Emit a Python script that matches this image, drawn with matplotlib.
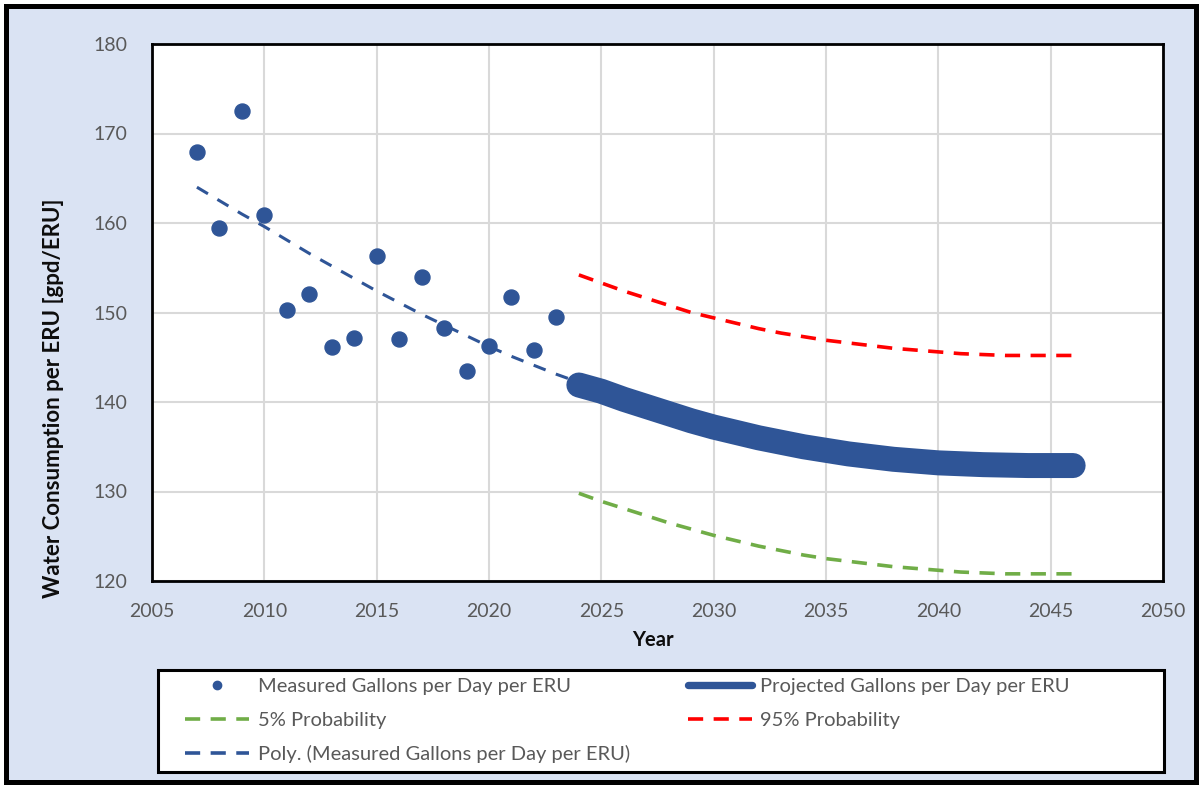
import numpy as np
import matplotlib
matplotlib.use("Agg")
import matplotlib.pyplot as plt
from matplotlib.lines import Line2D
from matplotlib.patches import Rectangle

plt.rcParams['font.family'] = ['Lato', 'DejaVu Sans']

# Measured data
meas_years = [2007, 2008, 2009, 2010, 2011, 2012, 2013, 2014, 2015, 2016,
              2017, 2018, 2019, 2020, 2021, 2022, 2023]
meas_vals = [167.9, 159.4, 172.5, 160.9, 150.3, 152.1, 146.1, 147.1, 156.3, 147.0,
             154.0, 148.3, 143.5, 146.3, 151.7, 145.8, 149.5]

# Polynomial trendline (as drawn)
trend_years = list(range(2007, 2025))
trend_vals = [164.0, 162.5, 161.0, 159.6, 158.1, 156.6, 155.2, 153.8, 152.4, 151.1,
              149.8, 148.6, 147.4, 146.2, 145.1, 144.1, 143.1, 142.2]

# Projections
proj_years = list(range(2024, 2047))
proj_vals = [141.9, 141.2, 140.3, 139.5, 138.7, 137.9, 137.2, 136.6, 136.0, 135.5,
             135.0, 134.6, 134.2, 133.9, 133.6, 133.4, 133.2, 133.1, 133.0, 132.95,
             132.9, 132.9, 132.9]
p95_vals = [154.2, 153.3, 152.4, 151.6, 150.8, 150.0, 149.4, 148.8, 148.2, 147.7,
            147.3, 146.9, 146.6, 146.3, 146.0, 145.8, 145.6, 145.4, 145.3, 145.2,
            145.2, 145.2, 145.2]
p5_vals = [129.8, 128.9, 128.1, 127.3, 126.5, 125.8, 125.1, 124.5, 123.9, 123.4,
           122.9, 122.5, 122.2, 121.9, 121.6, 121.4, 121.2, 121.0, 120.9, 120.8,
           120.8, 120.8, 120.8]

x_ticks = [2005, 2010, 2015, 2020, 2025, 2030, 2035, 2040, 2045, 2050]
y_ticks = [120, 130, 140, 150, 160, 170, 180]

blue = '#2f5597'
red = '#ff0000'
green = '#70ad47'
bg = '#dae3f3'
txt = '#595959'

W, H = 1201, 787
fig = plt.figure(figsize=(W / 100, H / 100), dpi=100)
fig.patch.set_facecolor('white')
# light blue background with black border
fig.add_artist(Rectangle((5.5 / W, 5.5 / H), (W - 11) / W, (H - 11) / H,
                         transform=fig.transFigure, facecolor=bg,
                         edgecolor='black', linewidth=3.6, zorder=0))

ax = fig.add_axes([152 / W, (H - 581) / H, (1163 - 152) / W, (581 - 44) / H])
ax.set_facecolor('white')

dash = (0, (4.2, 2.9))
ax.plot(trend_years, trend_vals, color=blue, lw=2.2, ls=(0, (4.2, 3.6)), zorder=3)
ax.plot(meas_years, meas_vals, 'o', color=blue, ms=10.8, zorder=4)
ax.plot(proj_years, proj_vals, '-', color=blue, lw=18, solid_capstyle='round', zorder=3)
ax.plot(proj_years, p95_vals, color=red, lw=2.6, ls=dash, zorder=3)
ax.plot(proj_years, p5_vals, color=green, lw=2.6, ls=dash, zorder=3)

ax.set_xlim(2005, 2050)
ax.set_ylim(120, 180)
ax.set_xticks(x_ticks)
ax.set_yticks(y_ticks)
ax.grid(True, color='#d9d9d9', lw=1.5)
ax.set_axisbelow(True)
ax.tick_params(length=0, labelsize=14, colors=txt)
ax.tick_params(axis='x', pad=16)
ax.tick_params(axis='y', pad=18)
for s in ax.spines.values():
    s.set_color('black')
    s.set_linewidth(2)

ax.set_xlabel('Year', fontsize=14.5, fontweight='bold', color='#0d0d0d')
ax.xaxis.set_label_coords(0.4955, -0.091)
ax.set_ylabel('Water Consumption per ERU [gpd/ERU]', fontsize=16, fontweight='bold',
              color='#0d0d0d')
ax.yaxis.set_label_coords(-0.087, 0.34)

# legend frame
fig.add_artist(Rectangle((158 / W, (H - 772) / H), (1164 - 158) / W, (772 - 670) / H,
                         transform=fig.transFigure, facecolor='white',
                         edgecolor='black', linewidth=2.2, zorder=1))

h_meas = Line2D([], [], ls='none', marker='o', color=blue, ms=6)
h_p5 = Line2D([], [], color=green, lw=2.6, ls=dash)
h_poly = Line2D([], [], color=blue, lw=2.6, ls=dash)
h_proj = Line2D([], [], color=blue, lw=5.3, solid_capstyle='round')
h_p95 = Line2D([], [], color=red, lw=2.6, ls=dash)

common = dict(loc='upper left', fontsize=14.5, frameon=False, handlelength=3.2,
              handletextpad=0.4, labelspacing=0.82, borderaxespad=0, borderpad=0,
              labelcolor=txt)
leg1 = fig.legend([h_meas, h_p5, h_poly],
                  ['Measured Gallons per Day per ERU', '5% Probability',
                   'Poly. (Measured Gallons per Day per ERU)'],
                  bbox_to_anchor=(185 / W, (H - 678) / H), **common)
leg2 = fig.legend([h_proj, h_p95],
                  ['Projected Gallons per Day per ERU', '95% Probability'],
                  bbox_to_anchor=(688 / W, (H - 678) / H), **common)
leg1.set_zorder(2)
leg2.set_zorder(2)

fig.savefig('out.png', dpi=100, facecolor='white')
